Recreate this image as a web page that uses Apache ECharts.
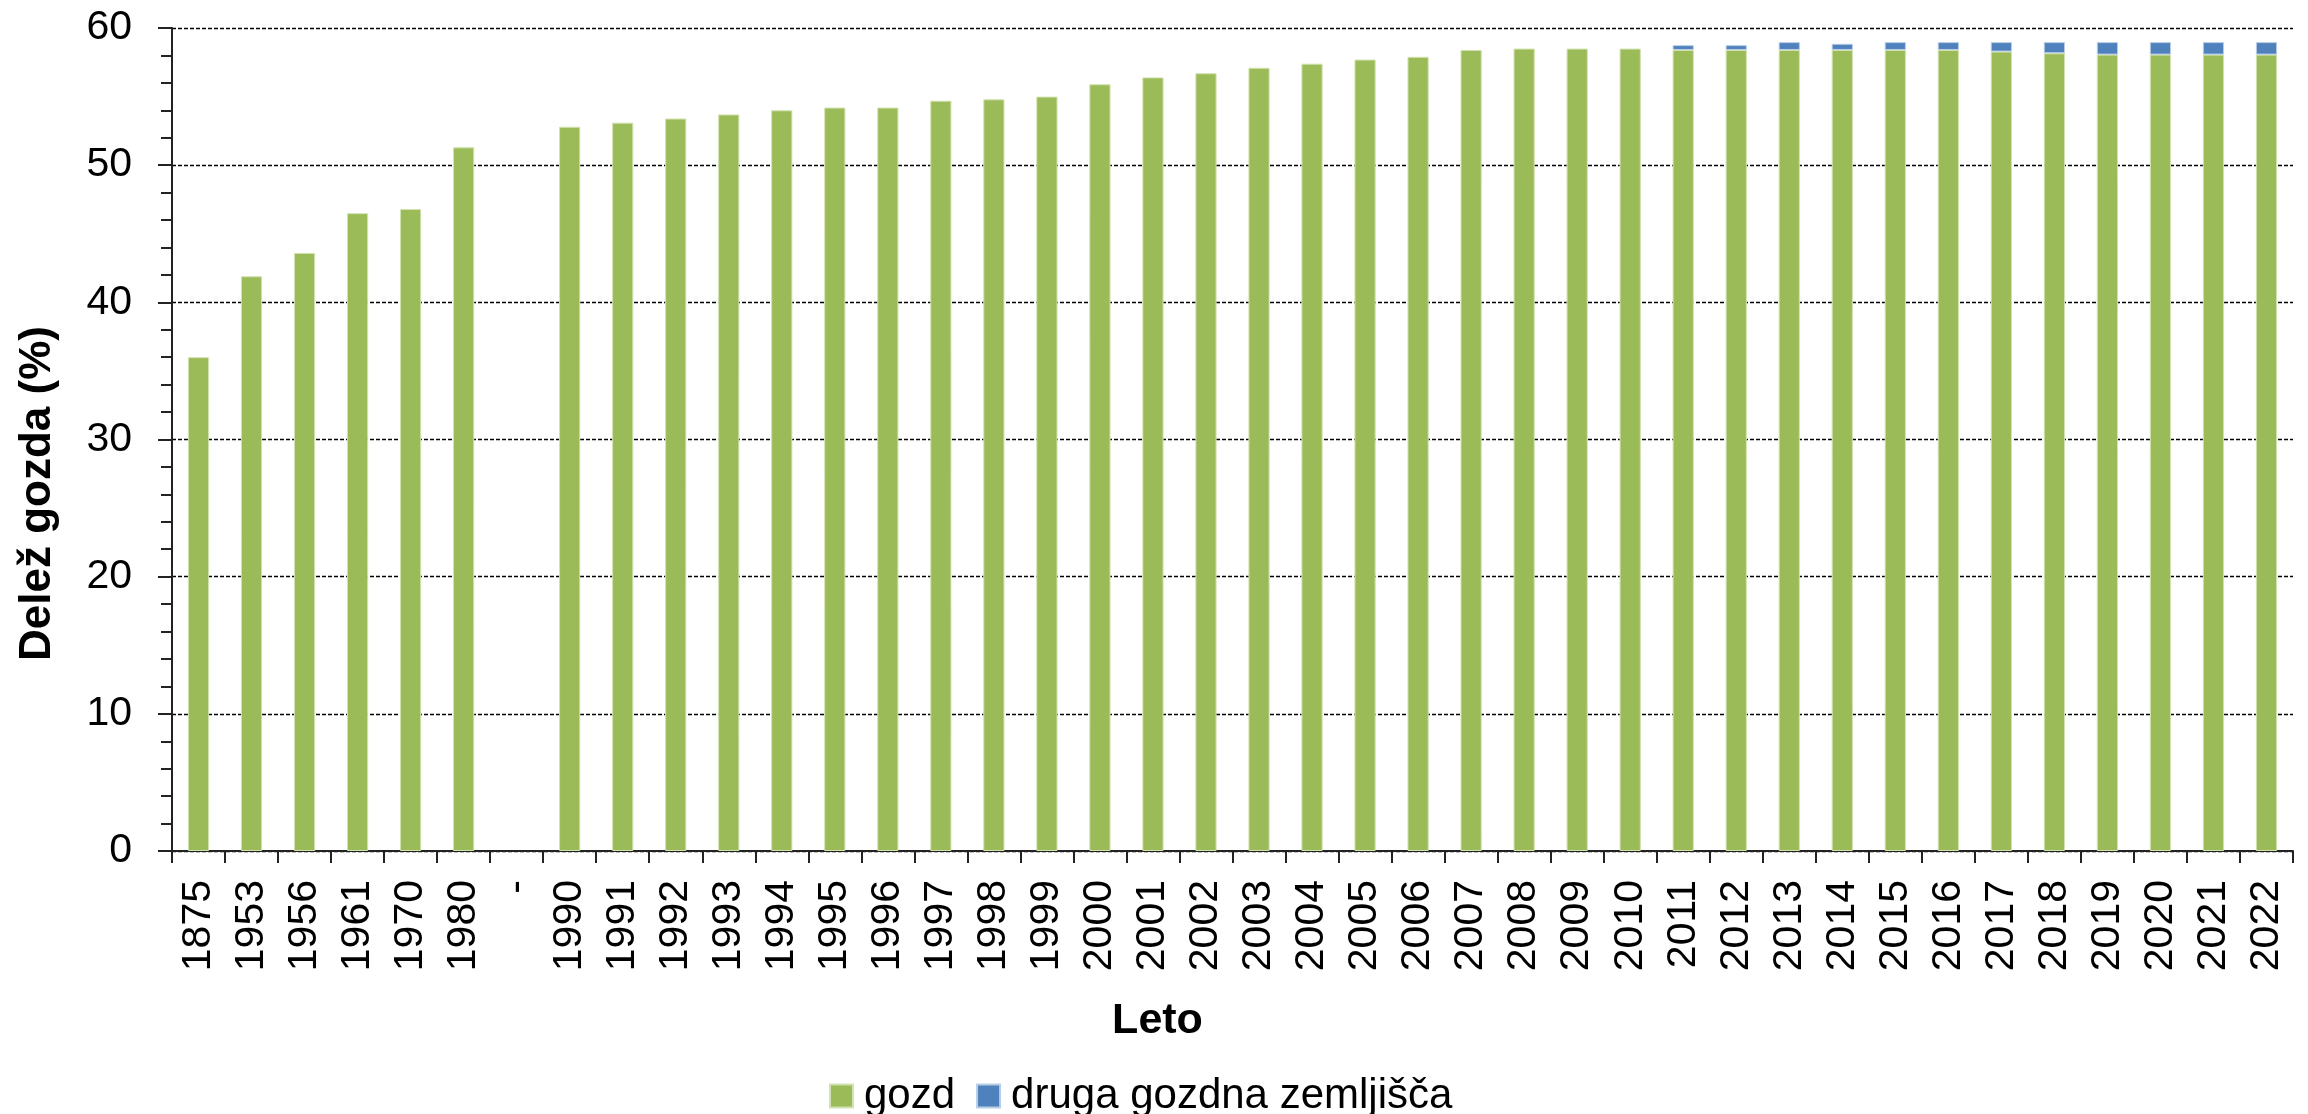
<!DOCTYPE html>
<html lang="sl">

<head>
  <meta charset="UTF-8">
  <title>Delež gozda</title>
  <style>
    html, body { margin: 0; padding: 0; background: #fff; }
    #main { width: 2308px; height: 1114px; }
  </style>
</head>

<body>
  <div id="main"></div>
</body>
<script src="https://cdn.jsdelivr.net/npm/echarts@6/dist/echarts.min.js"></script>
<script>
  // leta (kategorije) in vrednosti v %
  var years = ['1875', '1953', '1956', '1961', '1970', '1980', '-',
    '1990', '1991', '1992', '1993', '1994', '1995', '1996', '1997', '1998', '1999',
    '2000', '2001', '2002', '2003', '2004', '2005', '2006', '2007', '2008', '2009',
    '2010', '2011', '2012', '2013', '2014', '2015', '2016', '2017', '2018', '2019',
    '2020', '2021', '2022'];

  var gozd = [36.0, 41.9, 43.6, 46.5, 46.8, 51.3, null,
    52.8, 53.1, 53.4, 53.7, 54.0, 54.2, 54.2, 54.7, 54.8, 55.0,
    55.9, 56.4, 56.7, 57.1, 57.4, 57.7, 57.9, 58.4, 58.5, 58.5,
    58.5, 58.4, 58.4, 58.4, 58.4, 58.4, 58.4, 58.28, 58.16, 58.06,
    58.06, 58.06, 58.06];

  var drugaZemljisca = [null, null, null, null, null, null, null,
    null, null, null, null, null, null, null, null, null, null,
    null, null, null, null, null, null, null, null, null, null,
    null, 0.35, 0.35, 0.57, 0.45, 0.57, 0.57, 0.69, 0.81, 0.91,
    0.91, 0.91, 0.91];

  var yTicks = [0, 10, 20, 30, 40, 50, 60];

  var font = 'Liberation Sans, Arial, sans-serif';

  var myChart = echarts.init(document.getElementById('main'));

  var option = {
    animation: false,
    textStyle: { fontFamily: font, color: '#000' },
    grid: {
      left: 172,
      right: 15,
      top: 28,
      bottom: 263,
      containLabel: false
    },
    legend: {
      data: ['gozd', 'druga gozdna zemljišča'],
      left: 824,
      top: 1070,
      icon: 'rect',
      itemWidth: 23,
      itemHeight: 23,
      itemGap: 21,
      textStyle: { fontFamily: font, fontSize: 42, color: '#000', padding: [0, 0, 0, 6] }
    },
    xAxis: {
      type: 'category',
      data: years,
      name: 'Leto',
      nameLocation: 'middle',
      nameGap: 149,
      nameTextStyle: {
        fontFamily: font, fontSize: 43, fontWeight: 'bold', color: '#000',
        padding: [0, 150, 0, 0]
      },
      axisLine: { lineStyle: { color: '#222', width: 2 } },
      axisTick: { show: true, interval: 0, length: 12, lineStyle: { color: '#222', width: 2 } },
      axisLabel: {
        interval: 0,
        rotate: 90,
        margin: 29,
        fontFamily: font,
        fontSize: 41,
        color: '#000'
      },
      splitLine: { show: false }
    },
    yAxis: {
      type: 'value',
      min: yTicks[0],
      max: yTicks[yTicks.length - 1],
      interval: 10,
      name: 'Delež gozda (%)',
      nameLocation: 'middle',
      nameGap: 112,
      nameTextStyle: {
        fontFamily: font, fontSize: 44, fontWeight: 'bold', color: '#000',
        padding: [0, 108, 0, 0]
      },
      axisLine: { show: true, lineStyle: { color: '#222', width: 2 } },
      axisTick: { show: true, length: 14, lineStyle: { color: '#222', width: 2 } },
      minorTick: { show: true, splitNumber: 5, length: 11, lineStyle: { color: '#222', width: 2 } },
      axisLabel: { margin: 40, fontFamily: font, fontSize: 41, color: '#000' },
      splitLine: { show: true, lineStyle: { color: '#000', width: 1.3, type: [4, 2] } }
    },
    series: [{
      name: 'gozd',
      type: 'bar',
      stack: 'skupaj',
      barWidth: '40%',
      data: gozd,
      itemStyle: { color: '#9BBB59', borderColor: '#d2e2b0', borderWidth: 1 }
    }, {
      name: 'druga gozdna zemljišča',
      type: 'bar',
      stack: 'skupaj',
      barWidth: '40%',
      data: drugaZemljisca,
      itemStyle: { color: '#4F81BD', borderColor: '#b9cde5', borderWidth: 1 }
    }]
  };

  myChart.setOption(option);
</script>

</html>
